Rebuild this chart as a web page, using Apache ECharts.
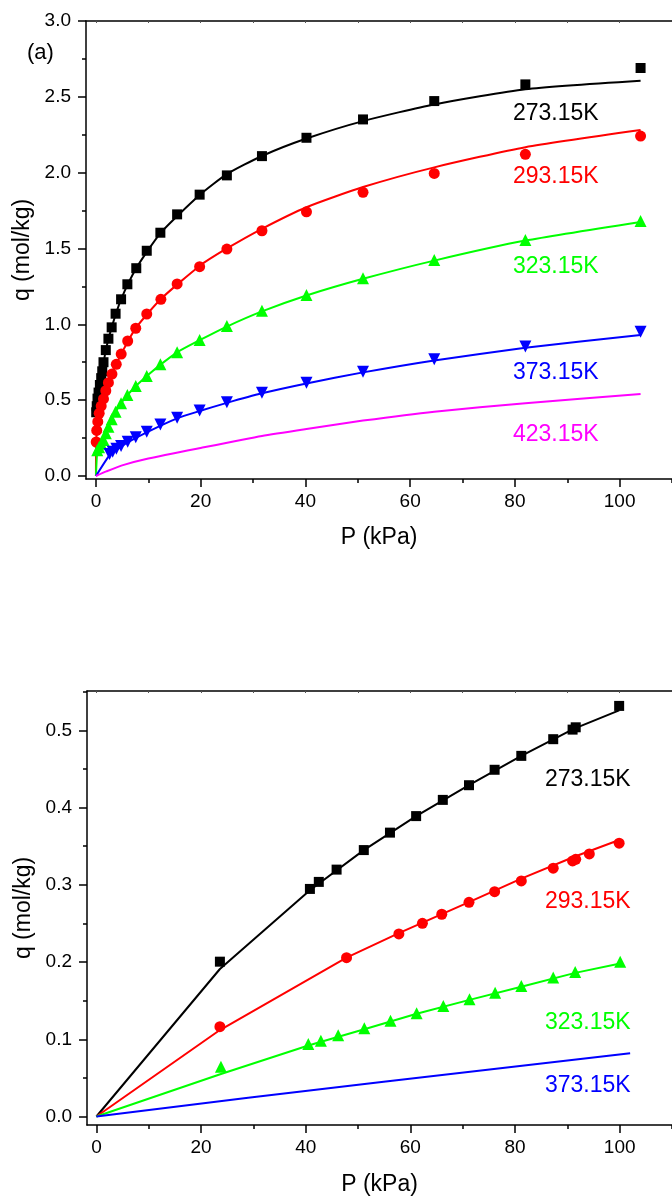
<!DOCTYPE html>
<html>
<head>
<meta charset="utf-8">
<script src="https://cdn.jsdelivr.net/npm/echarts@6/dist/echarts.min.js"></script>
<style>
html,body{margin:0;padding:0;background:#fff;}
#chart{width:672px;height:1198px;}
</style>
</head>
<body>
<div id="chart"></div>
<script>
// ---------- Panel (a) : experimental points ----------
const pA_273 = [0.05,0.15,0.3,0.5,0.75,1.0,1.2,1.44,1.88,2.38,3.0,3.75,4.8,6.0,7.7,9.7,12.3,15.5,19.8,25.0,31.7,40.2,51.0,64.6,82.0,104.0];
const qA_273 = [0.42,0.46,0.51,0.55,0.60,0.645,0.69,0.75,0.83,0.905,0.98,1.07,1.165,1.264,1.37,1.485,1.604,1.725,1.855,1.982,2.109,2.230,2.351,2.472,2.582,2.690];
const pA_293 = [0.05,0.15,0.35,0.62,1.0,1.44,1.88,2.38,3.06,3.88,4.82,6.06,7.6,9.7,12.4,15.5,19.8,25.0,31.7,40.2,51.0,64.6,82.0,104.0];
const qA_293 = [0.224,0.30,0.358,0.413,0.461,0.508,0.562,0.615,0.672,0.736,0.804,0.89,0.974,1.068,1.165,1.266,1.380,1.496,1.617,1.742,1.870,1.995,2.121,2.241];
const pA_323 = [0.25,0.6,1.0,1.44,1.88,2.38,3.0,3.75,4.8,6.0,7.6,9.7,12.3,15.5,19.8,25.0,31.7,40.2,51.0,64.6,82.0,104.0];
const qA_323 = [0.17,0.19,0.212,0.237,0.281,0.325,0.374,0.424,0.479,0.534,0.593,0.659,0.736,0.815,0.897,0.989,1.090,1.193,1.303,1.424,1.556,1.681];
const pA_373 = [2.6,3.2,3.9,4.8,6.06,7.6,9.7,12.3,15.5,19.8,25.0,31.7,40.2,51.0,64.6,82.0,104.0];
const qA_373 = [0.145,0.16,0.18,0.198,0.226,0.256,0.292,0.340,0.384,0.431,0.486,0.549,0.615,0.688,0.769,0.853,0.951];
// ---------- Panel (a) : fitted curves ----------
const fA_273_p = [0.05,0.3,0.75,1.2,1.88,3.0,4.8,7.7,12.3,19.8,25.0,31.7,40.2,51.0,64.6,82.0,104.0];
const fA_273_q = [0.41,0.51,0.60,0.69,0.83,0.98,1.165,1.37,1.60,1.852,1.99,2.11,2.225,2.34,2.45,2.55,2.606];
const fA_293_p = [0,0.05,0.35,1.0,1.88,3.06,4.82,7.6,12.4,19.8,25.0,31.7,40.2,51.0,64.6,82.0,104.0];
const fA_293_q = [0,0.22,0.355,0.46,0.56,0.672,0.804,0.975,1.167,1.385,1.50,1.63,1.772,1.905,2.035,2.168,2.281];
const fA_323_p = [0,0.25,0.6,1.44,2.38,3.75,6.0,9.7,15.5,19.8,25.0,31.7,40.2,51.0,64.6,82.0,104.0];
const fA_323_q = [0,0.165,0.19,0.237,0.325,0.424,0.534,0.659,0.815,0.895,0.985,1.085,1.19,1.30,1.42,1.552,1.675];
const fA_373_p = [0,2.6,3.9,6.06,9.7,15.5,19.8,25.0,31.7,40.2,51.0,64.6,82.0,104.0];
const fA_373_q = [0,0.138,0.172,0.222,0.288,0.38,0.428,0.482,0.545,0.61,0.683,0.762,0.845,0.93];
const fA_423_p = [0,2,5,10,20,31.7,40.2,51.0,64.6,82.0,104.0];
const fA_423_q = [0,0.03,0.07,0.115,0.185,0.264,0.31,0.365,0.424,0.479,0.541];

// ---------- Panel (b) : experimental points ----------
const pB_273 = [23.6,40.8,42.5,45.9,51.1,56.1,61.1,66.2,71.2,76.1,81.2,87.3,91.0,91.6,99.9];
const qB_273 = [0.2005,0.2947,0.3038,0.3197,0.345,0.3676,0.389,0.41,0.429,0.449,0.467,0.4886,0.501,0.504,0.5317];
const pB_293 = [23.6,47.8,57.8,62.3,66.0,71.2,76.1,81.2,87.3,91.0,91.6,94.2,99.9];
const qB_293 = [0.1163,0.2057,0.2364,0.2502,0.2619,0.2774,0.2912,0.305,0.3215,0.331,0.333,0.340,0.3539];
const pB_323 = [23.8,40.5,42.9,46.2,51.2,56.2,61.2,66.3,71.3,76.2,81.2,87.3,91.5,100.1];
const qB_323 = [0.0645,0.0939,0.0982,0.1052,0.1142,0.124,0.1337,0.1431,0.1518,0.1604,0.169,0.180,0.187,0.2005];
// ---------- Panel (b) : fitted lines ----------
const fB_273_p = [0,23.6,40.8,51.1,61.1,71.2,81.2,91.2,99.9];
const fB_273_q = [0,0.191,0.293,0.345,0.389,0.429,0.467,0.502,0.526];
const fB_293_p = [0,23.6,47.8,57.8,71.2,81.2,91.2,99.9];
const fB_293_q = [0,0.112,0.2057,0.2375,0.2775,0.308,0.336,0.358];
const fB_323_p = [0,23.8,40.5,51.2,61.2,71.3,81.2,91.5,100.1];
const fB_323_q = [0,0.055,0.092,0.113,0.133,0.151,0.168,0.186,0.198];
const fB_373_p = [0,29,54.9,102];
const fB_373_q = [0,0.0244,0.0451,0.0819];

// ---------- ticks / labels ----------
const xMajor = [0,20,40,60,80,100];
const xMinor = [10,30,50,70,90,110];
const xTop = [0,10,20,30,40,50,60,70,80,90,100,110];
const yMajorA = [0,0.5,1.0,1.5,2.0,2.5,3.0];
const yMinorA = [0.25,0.75,1.25,1.75,2.25,2.75];
const yMajorB = [0,0.1,0.2,0.3,0.4,0.5];
const yMinorB = [0.05,0.15,0.25,0.35,0.45,0.55];
const tempsA = ['273.15K','293.15K','323.15K','373.15K','423.15K'];
const tempsB = ['273.15K','293.15K','323.15K','373.15K'];
const colors = ['#000000','#ff0000','#00ff00','#0000ff','#ff00ff'];

const FONT = '"Liberation Sans", Arial, sans-serif';
const zip = (a,b) => a.map((v,i)=>[v,b[i]]);

function xAxes(grid, min, max, gap) {
  return [
    { gridIndex:grid, type:'value', position:'bottom', min, max,
      name:'P (kPa)', nameLocation:'middle', nameGap:gap,
      nameTextStyle:{fontFamily:FONT,fontSize:23,color:'#000'},
      axisLine:{onZero:false,lineStyle:{color:'#000',width:1.5}},
      axisTick:{customValues:xMajor,length:8,lineStyle:{color:'#000',width:1.5}},
      axisLabel:{customValues:xMajor,margin:13,fontFamily:FONT,fontSize:19,color:'#000'},
      splitLine:{show:false} },
    { gridIndex:grid, type:'value', position:'bottom', min, max,
      axisLine:{show:false,onZero:false},
      axisTick:{customValues:xMinor,length:4,lineStyle:{color:'#000',width:1.5}},
      axisLabel:{show:false}, splitLine:{show:false} },
    { gridIndex:grid, type:'value', position:'top', min, max,
      axisLine:{onZero:false,lineStyle:{color:'#000',width:1.5}},
      axisTick:{customValues:xTop,length:2,inside:true,lineStyle:{color:'#555',width:1}},
      axisLabel:{show:false}, splitLine:{show:false} }
  ];
}
function yAxes(grid, min, max, major, minor) {
  return [
    { gridIndex:grid, type:'value', position:'left', min, max,
      name:'q (mol/kg)', nameLocation:'middle', nameGap:51, nameRotate:90,
      nameTextStyle:{fontFamily:FONT,fontSize:23,color:'#000'},
      axisLine:{onZero:false,lineStyle:{color:'#000',width:1.5}},
      axisTick:{customValues:major,length:8,lineStyle:{color:'#000',width:1.5}},
      axisLabel:{customValues:major,margin:15,fontFamily:FONT,fontSize:19,color:'#000',
                 formatter:v=>Number(v).toFixed(1)},
      splitLine:{show:false} },
    { gridIndex:grid, type:'value', position:'left', min, max,
      axisLine:{show:false,onZero:false},
      axisTick:{customValues:minor,length:4,lineStyle:{color:'#000',width:1.5}},
      axisLabel:{show:false}, splitLine:{show:false} }
  ];
}

function lineS(xi, yi, p, q, color, smooth) {
  return { type:'line', xAxisIndex:xi, yAxisIndex:yi, data:zip(p,q),
    showSymbol:false, symbol:'none', smooth:smooth,
    lineStyle:{color, width:2}, silent:true, z:2, animation:false };
}
function ptS(xi, yi, p, q, color, symbol, size, rot) {
  return { type:'scatter', xAxisIndex:xi, yAxisIndex:yi, data:zip(p,q),
    symbol, symbolSize:size, symbolRotate:rot||0,
    itemStyle:{color, opacity:1}, silent:true, z:3, animation:false };
}

const series = [
  lineS(0,0,fA_273_p,fA_273_q,colors[0],0.2),
  lineS(0,0,fA_293_p,fA_293_q,colors[1],0.2),
  lineS(0,0,fA_323_p,fA_323_q,colors[2],0.2),
  lineS(0,0,fA_373_p,fA_373_q,colors[3],0.2),
  lineS(0,0,fA_423_p,fA_423_q,colors[4],0.2),
  ptS(0,0,pA_273,qA_273,colors[0],'rect',10),
  ptS(0,0,pA_293,qA_293,colors[1],'circle',11),
  ptS(0,0,pA_323,qA_323,colors[2],'triangle',12),
  ptS(0,0,pA_373,qA_373,colors[3],'triangle',12,180),
  lineS(3,2,fB_273_p,fB_273_q,colors[0],false),
  lineS(3,2,fB_293_p,fB_293_q,colors[1],false),
  lineS(3,2,fB_323_p,fB_323_q,colors[2],false),
  lineS(3,2,fB_373_p,fB_373_q,colors[3],false),
  ptS(3,2,pB_273,qB_273,colors[0],'rect',10),
  ptS(3,2,pB_293,qB_293,colors[1],'circle',11),
  ptS(3,2,pB_323,qB_323,colors[2],'triangle',12)
];

const labA_y = [114,177,267,373,435];
const labB_y = [780,902,1023,1086];
const graphic = [
  {type:'text', x:27, y:53, style:{text:'(a)', fill:'#000', font:'22px '+FONT, verticalAlign:'middle', textVerticalAlign:'middle'}}
];
tempsA.forEach((t,i)=>graphic.push({type:'text', x:513, y:labA_y[i],
  style:{text:t, fill:colors[i], font:'23px '+FONT, verticalAlign:'middle', textVerticalAlign:'middle'}}));
tempsB.forEach((t,i)=>graphic.push({type:'text', x:545, y:labB_y[i],
  style:{text:t, fill:colors[i], font:'23px '+FONT, verticalAlign:'middle', textVerticalAlign:'middle'}}));

const chart = echarts.init(document.getElementById('chart'), null, {renderer:'canvas'});
chart.setOption({
  animation:false,
  backgroundColor:'#fff',
  grid:[
    {left:86, top:21, width:597, height:458},
    {left:87, top:691, width:592, height:434}
  ],
  xAxis:[...xAxes(0,-1.9,110,47), ...xAxes(1,-1.8,110,48)],
  yAxis:[...yAxes(0,-0.02,3.0,yMajorA,yMinorA), ...yAxes(1,-0.011,0.551,yMajorB,yMinorB)],
  series,
  graphic
});
</script>
</body>
</html>
